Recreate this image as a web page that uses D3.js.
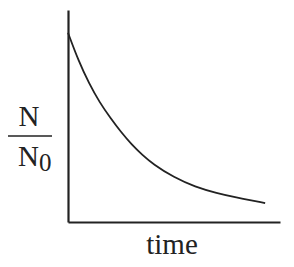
<!DOCTYPE html>
<html>
<head>
<meta charset="utf-8">
<script src="https://cdn.jsdelivr.net/npm/d3@7"></script>
<style>
  html, body { margin: 0; padding: 0; background: #fff; }
  svg { display: block; }
  text { font-family: "Liberation Serif", "Times New Roman", serif; fill: #222; }
</style>
</head>
<body>
<svg id="chart" width="294" height="267"></svg>
<script>
const time  = [0, 0.5, 1, 1.5, 2, 2.5, 3, 3.5, 4, 5, 6, 7, 8, 9.3];
const ratio = [1, 0.85, 0.73, 0.63, 0.55, 0.475, 0.41, 0.355, 0.307, 0.235, 0.186, 0.153, 0.128, 0.1];
const xLabel = "time";
const yNum = "N";
const yDen = "N";
const yDenSub = "0";

const svg = d3.select("#chart");
const x = d3.scaleLinear().domain([0, 10]).range([68, 280]);
const y = d3.scaleLinear().domain([0, 1.12]).range([222, 10]);

const data = time.map((t, i) => ({ t, r: ratio[i] }));

svg.append("path")
  .datum(data)
  .attr("fill", "none")
  .attr("stroke", "#222")
  .attr("stroke-width", 1.8)
  .attr("d", d3.line().x(d => x(d.t)).y(d => y(d.r)).curve(d3.curveBasis));

const xAxis = svg.append("g").attr("transform", `translate(0,${y(0)})`)
  .call(d3.axisBottom(x).tickValues([]).tickSizeOuter(0));
const yAxis = svg.append("g").attr("transform", `translate(${x(0)},0)`)
  .call(d3.axisLeft(y).tickValues([]).tickSizeOuter(0));
[xAxis, yAxis].forEach(g => g.select(".domain").attr("stroke", "#222").attr("stroke-width", 2.2));

svg.append("text").attr("x", 172).attr("y", 254)
  .attr("text-anchor", "middle").attr("font-size", 29).text(xLabel);

svg.append("text").attr("x", 29).attr("y", 126)
  .attr("text-anchor", "middle").attr("font-size", 29).text(yNum);
svg.append("line").attr("x1", 8).attr("x2", 52).attr("y1", 136).attr("y2", 136)
  .attr("stroke", "#222").attr("stroke-width", 1.6);
const den = svg.append("text").attr("x", 18).attr("y", 166).attr("font-size", 29);
den.append("tspan").text(yDen);
den.append("tspan").attr("font-size", 25).attr("dy", 5).text(yDenSub);
</script>
</body>
</html>
